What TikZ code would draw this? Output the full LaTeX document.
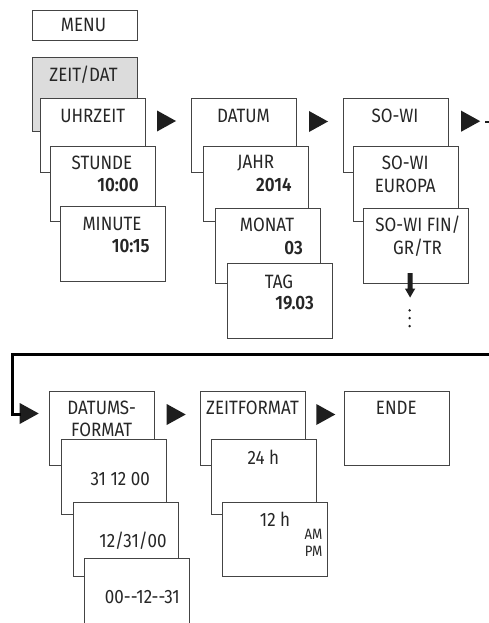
\documentclass[tikz,border=0pt]{standalone}
\usepackage{fontspec}
\setmainfont{Fira Sans}[FakeStretch=0.88, BoldFont=Fira Sans SemiBold, BoldFeatures={FakeStretch=0.88}]
\definecolor{boxline}{HTML}{444444}
\definecolor{zgray}{HTML}{DCDCDC}
\definecolor{arrowfill}{HTML}{1E1E1E}
\tikzset{
  box/.style={draw=boxline, line width=0.9pt, fill=white, anchor=north west, inner sep=0pt, minimum width=105pt, minimum height=74.5pt},
  lbl/.style={inner sep=0pt, font=\fontsize{19.3}{21}\selectfont, text=black!85},
  val/.style={inner sep=0pt, anchor=east, font=\fontsize{19.3}{21}\selectfont\bfseries, text=black!85},
  small/.style={inner sep=0pt, anchor=east, font=\fontsize{15}{16}\selectfont, text=black!85},
  link/.style={line width=2.7pt, draw=black}
}
\newcommand\trig[2]{\fill[arrowfill] (#1-9.5,#2-10.5) -- (#1+9.5,#2) -- (#1-9.5,#2+10.5) -- cycle;}
\begin{document}
\begin{tikzpicture}[x=1pt,y=-1pt]
\useasboundingbox (0,0) rectangle (489,623);
% MENU
\node[box, minimum height=30.5pt] (menu) at (31.5,10) {};
\node[lbl] (menu-t) at (83.5,25.3) {MENU};
% column 1
\node[box, fill=zgray, minimum height=73.5pt] (zeit) at (31.5,57) {};
\node[lbl] (zeit-t) at (83.5,74.5) {ZEIT/DAT};
\node[box] (uhr) at (40.3,97.8) {};
\node[lbl] (uhr-t) at (92.8,116) {UHRZEIT};
\node[box] (std) at (49.5,146.3) {};
\node[lbl] (std-t) at (102,163) {STUNDE};
\node[val] (std-v) at (138.8,185.5) {10:00};
\node[box] (min) at (59.5,206.3) {};
\node[lbl] (min-t) at (112,223.5) {MINUTE};
\node[val] (min-v) at (149.8,246) {10:15};
\trig{166.5}{121}
% column 2
\node[box] (dat) at (191,97.8) {};
\node[lbl] (dat-t) at (243.5,116) {DATUM};
\node[box] (jahr) at (203.3,146.3) {};
\node[lbl] (jahr-t) at (255.8,163) {JAHR};
\node[val] (jahr-v) at (291.7,185.5) {2014};
\node[box] (mon) at (214.6,208.3) {};
\node[lbl] (mon-t) at (267,225) {MONAT};
\node[val] (mon-v) at (303,248) {03};
\node[box] (tag) at (226.5,263.3) {};
\node[lbl] (tag-t) at (279,281.5) {TAG};
\node[val] (tag-v) at (314,303.3) {19.03};
\trig{318.5}{121.5}
% column 3
\node[box] (sw) at (342.5,97.8) {};
\node[lbl] (sw-t) at (395,116) {SO-WI};
\node[box] (swe) at (352.8,146.3) {};
\node[lbl] (swe-t) at (405.3,163) {SO-WI};
\node[lbl] (swe-u) at (405.3,185.5) {EUROPA};
\node[box] (swf) at (362.8,208.3) {};
\node[lbl] (swf-t) at (418,225) {SO-WI FIN/};
\node[lbl] (swf-u) at (417.5,248) {GR/TR};
\trig{470.7}{121.2}
\fill[arrowfill] (485.2,120.6) rectangle (488.6,123);
% down arrow and dots
\fill[arrowfill] (407.6,273) -- (412.6,273) -- (412.6,288.5) -- (415.3,288.5) -- (410.1,297.5) -- (404.9,288.5) -- (407.6,288.5) -- cycle;
\foreach \yy [count=\i] in {310.3,318.2,326.1} \fill[arrowfill] (409.6,\yy) circle (1.35pt);
% link line
\coordinate (edge) at (489,354.3);
\trig{29.2}{413.5}
\coordinate (tip) at (20.5,414.3);
\draw[link] (edge) -- (12.3,354.3) |- (tip);
% bottom column 1
\node[box] (dfm) at (49,390.7) {};
\node[lbl] (dfm-t) at (101.7,408.3) {DATUMS-};
\node[lbl] (dfm-u) at (101.7,430) {FORMAT};
\node[box] (d1) at (60.7,439.3) {};
\node[lbl, anchor=east] (d1-t) at (150,479.3) {31 12 00};
\node[box] (d2) at (72.7,501.7) {};
\node[lbl, anchor=east] (d2-t) at (166.7,540.7) {12/31/00};
\node[box, minimum height=80pt] (d3) at (84.3,557.7) {};
\node[lbl, anchor=east] (d3-t) at (180,596.7) {00-{}-12-{}-31};
\trig{176.2}{414.5}
% bottom column 2
\node[box] (zf) at (200,390.7) {};
\node[lbl] (zf-t) at (252.5,408.3) {ZEITFORMAT};
\node[box] (h24) at (210.7,439.3) {};
\node[lbl] (h24-t) at (263.3,457.7) {24 h};
\node[box] (h12) at (222.3,501.7) {};
\node[lbl] (h12-t) at (275,519) {12 h};
\node[small] (am) at (322.7,534.3) {AM};
\node[small] (pm) at (322.7,551.7) {PM};
\trig{325.8}{414.5}
% ENDE
\node[box] (ende) at (343.7,390.7) {};
\node[lbl] (ende-t) at (396.3,408.3) {ENDE};
\end{tikzpicture}
\end{document}
